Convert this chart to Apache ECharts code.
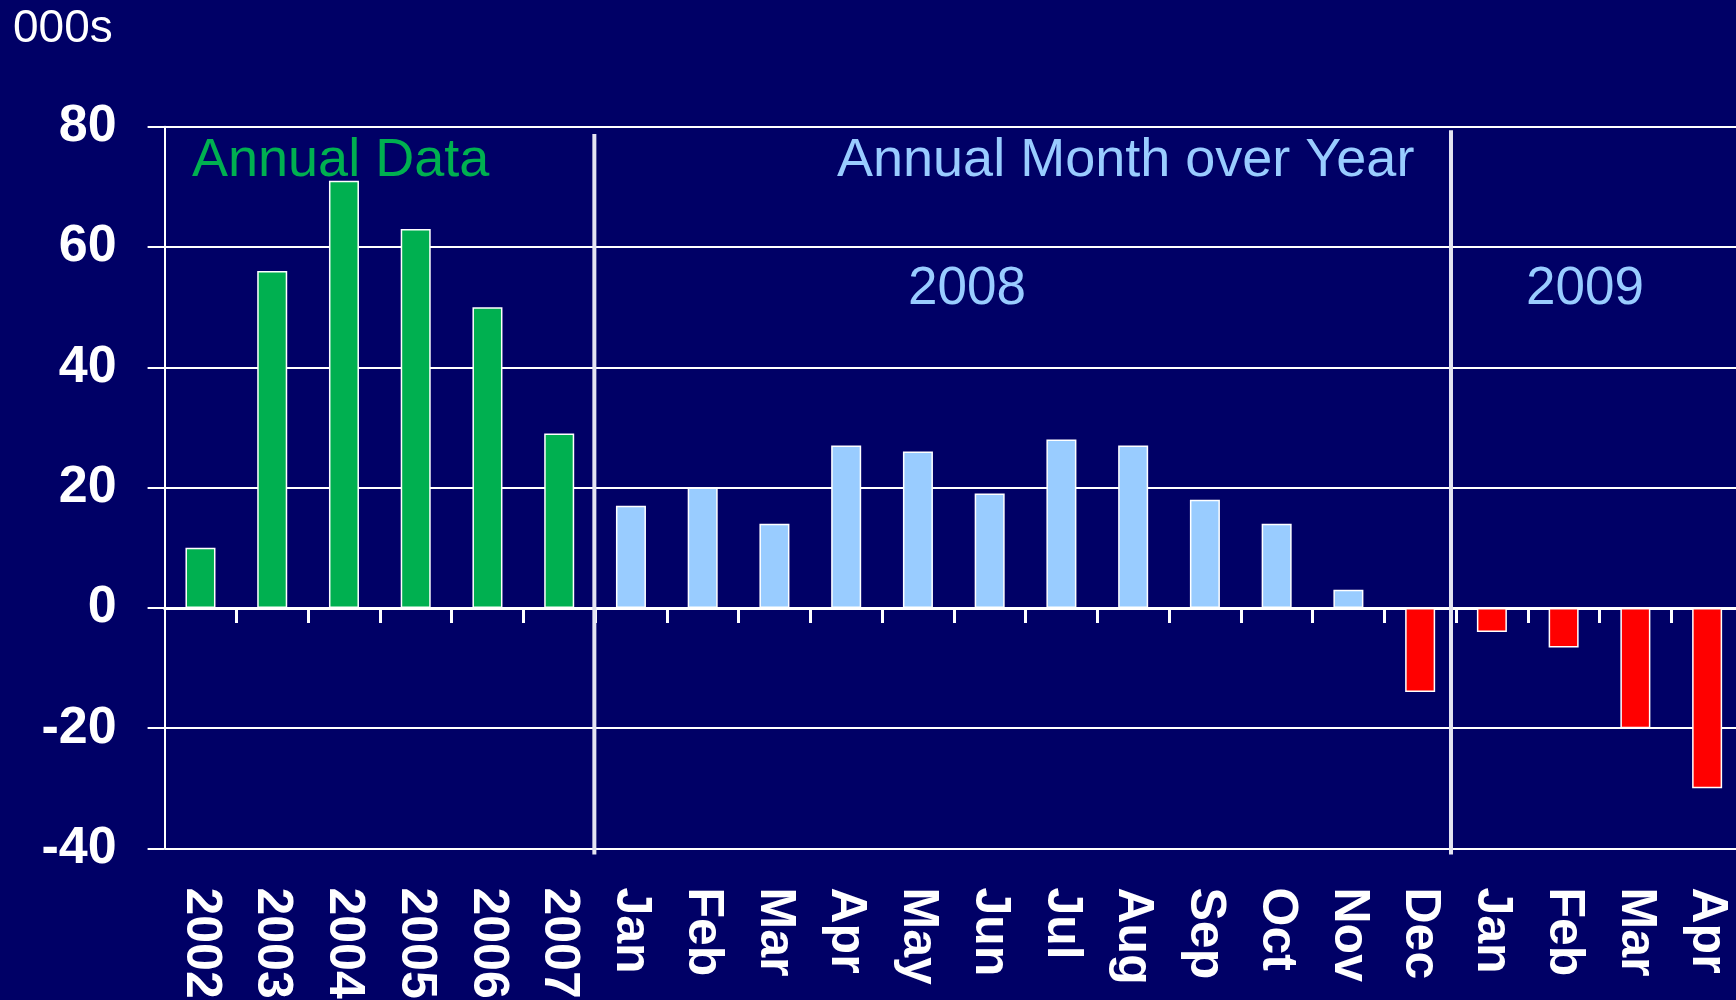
<!DOCTYPE html>
<html>
<head>
<meta charset="utf-8">
<script src="https://cdn.jsdelivr.net/npm/echarts@6/dist/echarts.min.js"></script>
<style>
  html, body { margin: 0; padding: 0; background: #000066; }
  #chart { width: 1736px; height: 1000px; }
</style>
</head>
<body>
<div id="chart"></div>
<script>
// categories: 6 years, then 2008 months, then 2009 months
var categories = ['2002', '2003', '2004', '2005', '2006', '2007',
    'Jan', 'Feb', 'Mar', 'Apr', 'May', 'Jun', 'Jul', 'Aug', 'Sep', 'Oct', 'Nov', 'Dec',
    'Jan', 'Feb', 'Mar', 'Apr'];
var values = [10, 56, 71, 63, 50, 29,
    17, 20, 14, 27, 26, 19, 28, 27, 18, 14, 3, -14,
    -4, -6.6, -20, -30];
var annualCount = 6;
var yTicks = [-40, -20, 0, 20, 40, 60, 80];

var chart = echarts.init(document.getElementById('chart'));

var labelFont = 'Liberation Sans, Arial, sans-serif';

// vertical divider between sections (on a hidden 0..22 value axis)
function divider(x, top) {
    return {
        type: 'line',
        xAxisIndex: 2,
        data: [[x, top], [x, -41]],
        clip: false,
        silent: true,
        symbol: 'none',
        z: 5,
        lineStyle: { color: '#e4e4f2', width: 4 }
    };
}

option = {
    backgroundColor: '#000066',
    animation: false,
    grid: {
        left: 164.6,
        right: -7,
        top: 126.7,
        bottom: 151.5,
        outerBoundsMode: 'none',
        containLabel: false
    },
    graphic: [
        {
            type: 'text', left: 13, top: 6,
            style: { text: '000s', fill: '#ffffff', font: '46px ' + labelFont }
        },
        {
            type: 'text', x: 192, y: 161,
            style: { text: 'Annual Data', fill: '#00b050', font: '54px ' + labelFont, verticalAlign: 'middle' }
        },
        {
            type: 'text', x: 837, y: 161,
            style: { text: 'Annual Month over Year', fill: '#99ccff', font: '54px ' + labelFont, verticalAlign: 'middle' }
        },
        {
            type: 'text', x: 967, y: 289,
            style: { text: '2008', fill: '#99ccff', font: '53px ' + labelFont, align: 'center', verticalAlign: 'middle' }
        },
        {
            type: 'text', x: 1585, y: 289,
            style: { text: '2009', fill: '#99ccff', font: '53px ' + labelFont, align: 'center', verticalAlign: 'middle' }
        }
    ],
    xAxis: [
        {
            // axis on the zero line with ticks between categories
            type: 'category',
            data: categories,
            axisLine: { onZero: true, lineStyle: { color: '#ffffff', width: 3 } },
            axisTick: {
                show: true, length: 15, lineStyle: { color: '#ffffff', width: 3 },
                interval: function (i) { return i > 0; }
            },
            axisLabel: { show: false },
            splitLine: { show: false }
        },
        {
            // labels at the bottom
            type: 'category',
            data: categories,
            position: 'bottom',
            axisLine: { show: false, onZero: false },
            axisTick: { show: false },
            axisLabel: {
                rotate: -90,
                margin: 39,
                color: '#ffffff',
                fontSize: 50,
                fontWeight: 'bold',
                fontFamily: labelFont,
                interval: 0
            }
        },
        {
            type: 'value',
            min: 0,
            max: 22,
            show: false
        }
    ],
    yAxis: {
        type: 'value',
        min: yTicks[0],
        max: yTicks[yTicks.length - 1],
        interval: 20,
        axisLine: { show: true, lineStyle: { color: '#ffffff', width: 2 } },
        axisTick: { show: true, length: 17, lineStyle: { color: '#ffffff', width: 2 } },
        splitLine: { lineStyle: { color: '#ffffff', width: 2 } },
        axisLabel: {
            margin: 48,
            color: '#ffffff',
            fontSize: 52,
            fontWeight: 'bold',
            fontFamily: labelFont
        }
    },
    series: [
        {
            name: 'values',
            type: 'bar',
            xAxisIndex: 0,
            barWidth: 30,
            data: values,
            itemStyle: {
                borderColor: '#ffffff',
                borderWidth: 1.5,
                color: function (p) {
                    if (p.value < 0) return '#ff0000';
                    if (p.dataIndex < annualCount) return '#00b050';
                    return '#99ccff';
                }
            }
        },
        divider(5.99, 78.8),
        divider(17.93, 79.4)
    ]
};
chart.setOption(option);
</script>
</body>
</html>
